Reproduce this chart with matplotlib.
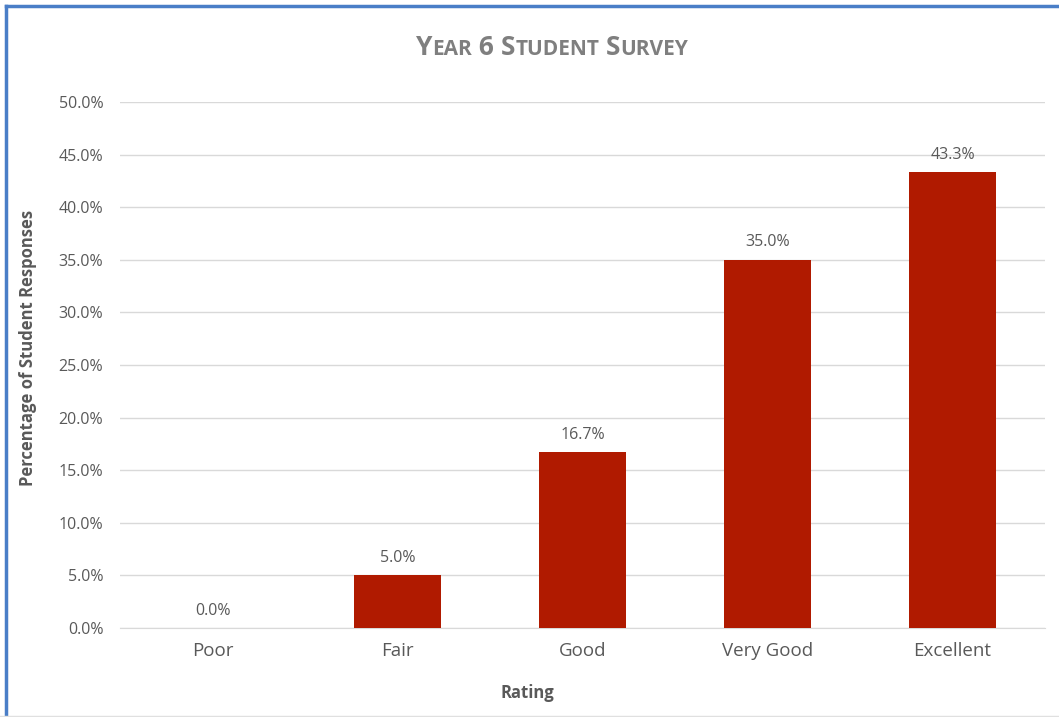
import matplotlib
matplotlib.use("Agg")
import matplotlib.pyplot as plt
from matplotlib.lines import Line2D
from matplotlib.ticker import FuncFormatter, MultipleLocator

categories = ["Poor", "Fair", "Good", "Very Good", "Excellent"]
values = [0.0, 5.0, 16.7, 35.0, 43.3]

W, H = 1059, 717
plt.rcParams['font.family'] = ['Open Sans', 'DejaVu Sans']
gray = '#595959'
fig = plt.figure(figsize=(W / 100, H / 100), dpi=100)
ax = fig.add_axes([120 / W, 1 - 628 / H, (1045 - 120) / W, (628 - 102) / H])

x = range(len(categories))
ax.bar(x, values, width=0.47, color='#B01A00', zorder=3)
for xi, v in zip(x, values):
    ax.text(xi, v + 0.9, f"{v:.1f}%", ha='center', va='bottom', fontsize=11.5, color=gray)

ax.set_xlim(-0.5, len(categories) - 0.5)
ax.set_ylim(0, 50)
ax.yaxis.set_major_locator(MultipleLocator(5))
ax.yaxis.set_major_formatter(FuncFormatter(lambda v, p: f"{v:.1f}%"))
ax.set_xticks(list(x))
ax.set_xticklabels(categories, fontsize=13.5, color=gray)
ax.tick_params(axis='y', labelsize=11.5, labelcolor=gray, length=0, pad=12)
ax.tick_params(axis='x', length=0, pad=10)
ax.grid(axis='y', color='#D9D9D9', linewidth=1, zorder=0)
for s in ['top', 'right', 'left']:
    ax.spines[s].set_visible(False)
ax.spines['bottom'].set_color('#D9D9D9')

fig.text(28 / W, 1 - 348 / H, "Percentage of Student Responses", rotation=90,
         ha='center', va='center', fontsize=12, fontweight='bold', color=gray)
fig.text(527 / W, 1 - 693 / H, "Rating", ha='center', va='center',
         fontsize=12, fontweight='bold', color=gray)

# Small-caps title
title_parts = [("Y", 19), ("EAR", 15), (" 6 ", 19), ("S", 19), ("TUDENT", 15), (" ", 19), ("S", 19), ("URVEY", 15)]
fig.canvas.draw()
renderer = fig.canvas.get_renderer()
texts = []
total = 0
for s, fs in title_parts:
    t = fig.text(0, 0, s, fontsize=fs, fontweight='bold', color='#7F7F7F', ha='left', va='baseline')
    w = t.get_window_extent(renderer).width
    texts.append((t, w))
    total += w
start = 552 - total / 2
base_y = 1 - 55 / H
cur = start
for t, w in texts:
    t.set_position((cur / W, base_y))
    cur += w

# border lines
fig.add_artist(Line2D([6 / W, 1], [1 - 6 / H, 1 - 6 / H], color='#4A7EC7', linewidth=2.5, transform=fig.transFigure))
fig.add_artist(Line2D([6 / W, 6 / W], [0, 1 - 6 / H], color='#4A7EC7', linewidth=2.5, transform=fig.transFigure))
fig.add_artist(Line2D([0, 1], [1 / H, 1 / H], color='#E0E0E0', linewidth=1, transform=fig.transFigure))

fig.savefig("out.png", dpi=100)
